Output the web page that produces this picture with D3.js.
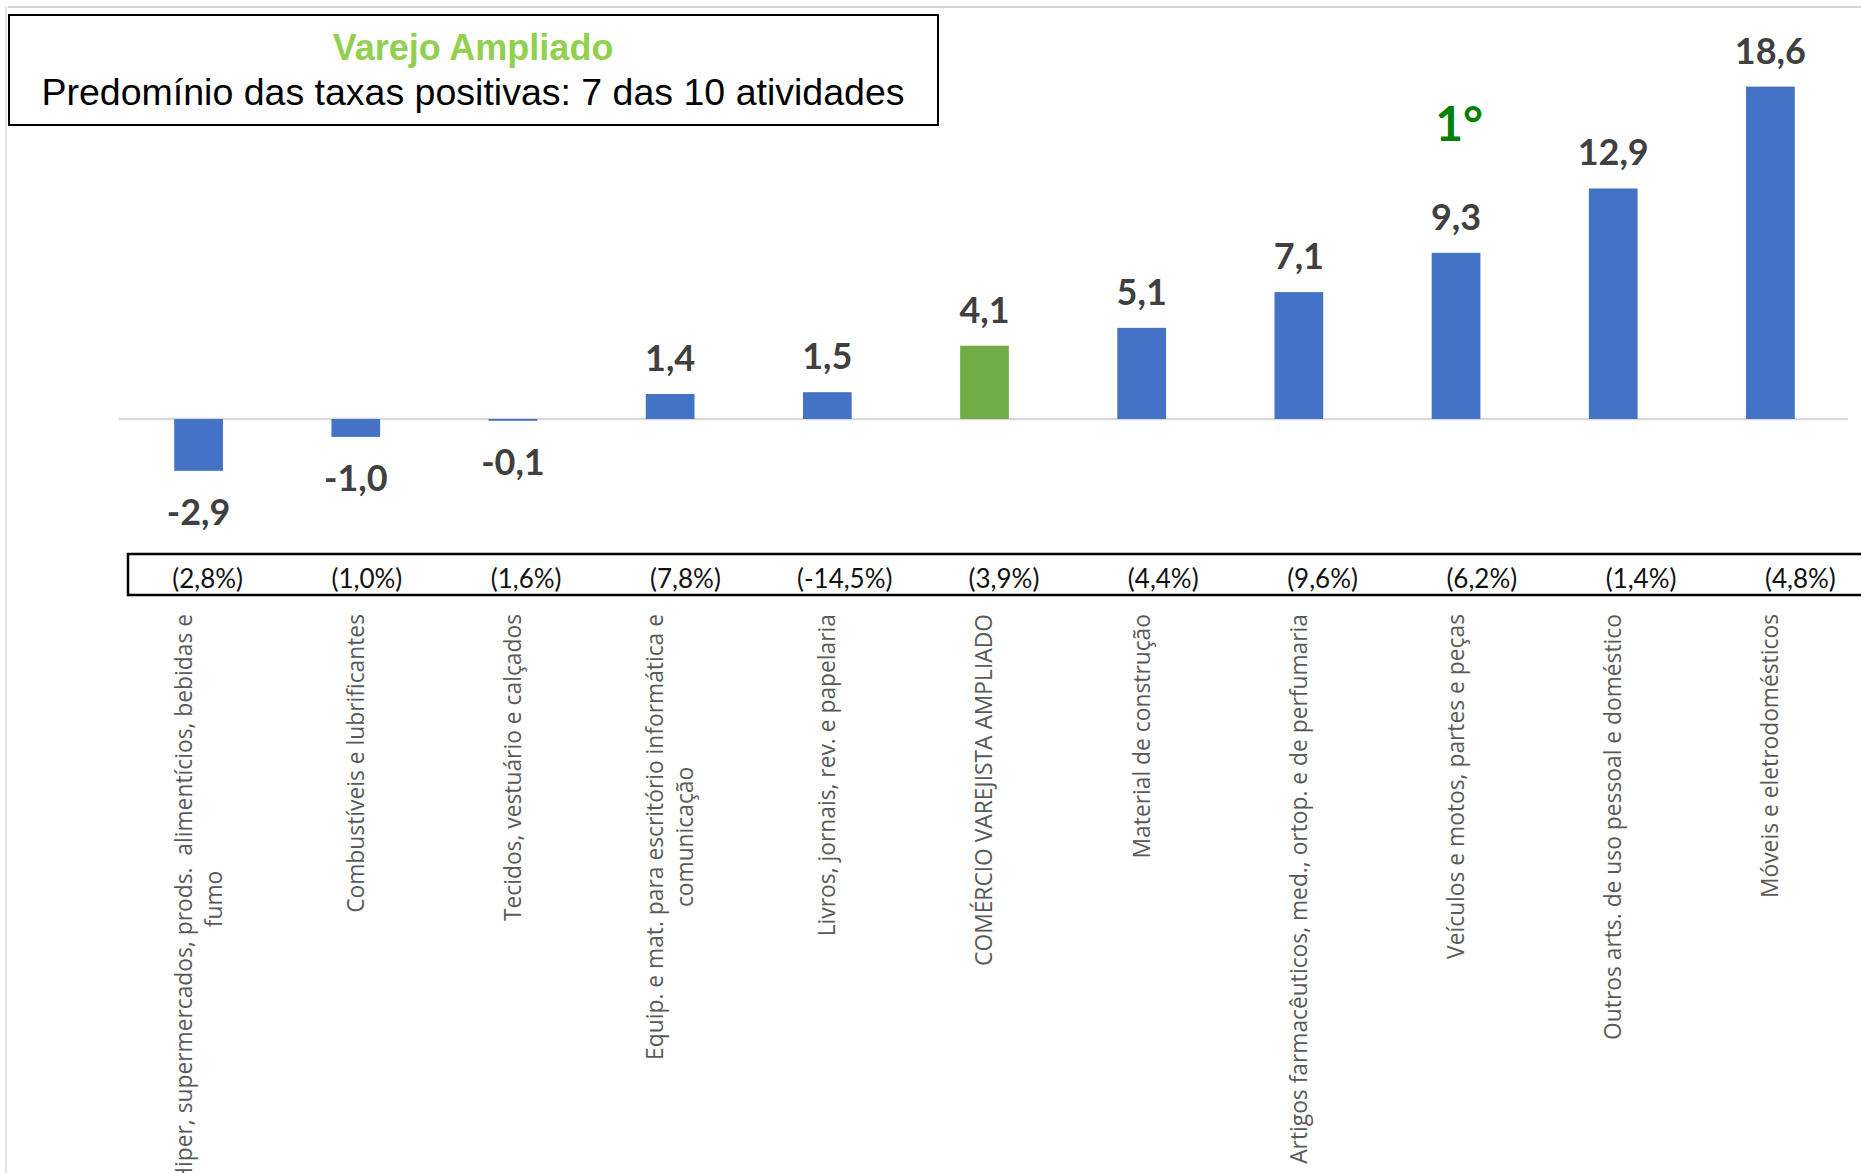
<!DOCTYPE html>
<html>
<head>
<meta charset="utf-8">
<script src="https://cdn.jsdelivr.net/npm/d3@7"></script>
<style>
  body { margin: 0; background: #fff; }
  svg { display: block; }
</style>
</head>
<body>
<div id="chart"></div>
<script>
// ---- data ----
const categories = [
  'Hiper, supermercados, prods.  alimentícios, bebidas e fumo',
  'Combustíveis e lubrificantes',
  'Tecidos, vestuário e calçados',
  'Equip. e mat. para escritório informática e comunicação',
  'Livros, jornais, rev. e papelaria',
  'COMÉRCIO VAREJISTA AMPLIADO',
  'Material de construção',
  'Artigos farmacêuticos, med., ortop. e de perfumaria',
  'Veículos e motos, partes e peças',
  'Outros arts. de uso pessoal e doméstico',
  'Móveis e eletrodomésticos'
];

// how each category label wraps in the reference
const labelLines = [
  ['Hiper, supermercados, prods.  alimentícios, bebidas e', 'fumo'],
  ['Combustíveis e lubrificantes'],
  ['Tecidos, vestuário e calçados'],
  ['Equip. e mat. para escritório informática e', 'comunicação'],
  ['Livros, jornais, rev. e papelaria'],
  ['COMÉRCIO VAREJISTA AMPLIADO'],
  ['Material de construção'],
  ['Artigos farmacêuticos, med., ortop. e de perfumaria'],
  ['Veículos e motos, partes e peças'],
  ['Outros arts. de uso pessoal e doméstico'],
  ['Móveis e eletrodomésticos']
];

const values = [-2.9, -1.0, -0.1, 1.4, 1.5, 4.1, 5.1, 7.1, 9.3, 12.9, 18.6];
const shares = ['(2,8%)', '(1,0%)', '(1,6%)', '(7,8%)', '(-14,5%)', '(3,9%)', '(4,4%)', '(9,6%)', '(6,2%)', '(1,4%)', '(4,8%)'];

const highlight = 'COMÉRCIO VAREJISTA AMPLIADO';
const rankLabel = '1°';
const rankCategory = 'Veículos e motos, partes e peças';

const titleText = 'Varejo Ampliado';
const subtitleText = 'Predomínio das taxas positivas: 7 das 10 atividades';

// ---- layout ----
const W = 1861, H = 1173;
const BLUE = '#4472C4', GREEN = '#70AD47';

const data = categories.map((c, i) => ({ cat: c, value: values[i], share: shares[i], lines: labelLines[i] }));

const svg = d3.select('#chart').append('svg')
  .attr('width', W)
  .attr('height', H);

// slide frame lines
svg.append('line')
  .attr('x1', 8).attr('x2', W).attr('y1', 7).attr('y2', 7)
  .attr('stroke', '#d6d6d6').attr('stroke-width', 2);
svg.append('line')
  .attr('x1', 6).attr('x2', 6).attr('y1', 7).attr('y2', H)
  .attr('stroke', '#e4e4e4').attr('stroke-width', 2);

// scales
const x = d3.scaleBand()
  .domain(categories)
  .range([120, 1849])
  .paddingInner(0.69)
  .paddingOuter(0.345);

const y = d3.scaleLinear()
  .domain([0, 18.6])
  .range([419, 86.6]);

const fmt = v => d3.format('.1f')(v).replace('.', ',').replace('−', '-');

// zero line
svg.append('line')
  .attr('x1', 119).attr('x2', 1848)
  .attr('y1', y(0)).attr('y2', y(0))
  .attr('stroke', '#d9d9d9')
  .attr('stroke-width', 2.5);

// bars
svg.selectAll('.bar')
  .data(data)
  .join('rect')
  .attr('class', 'bar')
  .attr('x', d => x(d.cat))
  .attr('width', x.bandwidth())
  .attr('y', d => y(Math.max(0, d.value)))
  .attr('height', d => Math.abs(y(d.value) - y(0)))
  .attr('fill', d => d.cat === highlight ? GREEN : BLUE);

// value labels
svg.selectAll('.val')
  .data(data)
  .join('text')
  .attr('class', 'val')
  .attr('x', d => x(d.cat) + x.bandwidth() / 2)
  .attr('y', d => d.value >= 0 ? y(d.value) - 23 : y(d.value) + 54)
  .attr('text-anchor', 'middle')
  .style('font-family', 'Lato, "Open Sans", sans-serif')
  .style('font-weight', 'bold')
  .style('font-size', '36px')
  .style('fill', '#404040')
  .text(d => fmt(d.value));

// "1°" marker
svg.append('text')
  .attr('x', x(rankCategory) + x.bandwidth() / 2 + 3)
  .attr('y', 141)
  .attr('text-anchor', 'middle')
  .style('font-family', 'Lato, "Open Sans", sans-serif')
  .style('font-weight', 'bold')
  .style('font-size', '48px')
  .style('fill', '#008000')
  .text(rankLabel);

// title box
svg.append('rect')
  .attr('x', 9).attr('y', 15)
  .attr('width', 929).attr('height', 110)
  .attr('fill', '#fff')
  .attr('stroke', '#000')
  .attr('stroke-width', 2);

svg.append('text')
  .attr('x', 473).attr('y', 60)
  .attr('text-anchor', 'middle')
  .style('font-family', '"Liberation Sans", Arial, sans-serif')
  .style('font-weight', 'bold')
  .style('font-size', '36px')
  .style('fill', '#92D050')
  .text(titleText);

svg.append('text')
  .attr('x', 473).attr('y', 105)
  .attr('text-anchor', 'middle')
  .style('font-family', '"Liberation Sans", Arial, sans-serif')
  .style('font-size', '37.5px')
  .style('fill', '#000')
  .text(subtitleText);

// share table row (its own spacing, runs off the right edge)
const xt = d3.scaleBand()
  .domain(categories)
  .range([128, 1880]);

svg.append('rect')
  .attr('x', 128).attr('y', 554)
  .attr('width', 1800).attr('height', 41)
  .attr('fill', 'none')
  .attr('stroke', '#000')
  .attr('stroke-width', 2.5);

svg.selectAll('.share')
  .data(data)
  .join('text')
  .attr('class', 'share')
  .attr('x', d => xt(d.cat) + xt.bandwidth() / 2)
  .attr('y', 588)
  .attr('text-anchor', 'middle')
  .style('font-family', 'Lato, "Open Sans", sans-serif')
  .style('font-size', '26px')
  .style('fill', '#111')
  .text(d => d.share);

// rotated category labels, top-aligned under the table
const labelTop = 614;
const lineH = 30;

const lab = svg.selectAll('.cat')
  .data(data)
  .join('g')
  .attr('class', 'cat')
  .attr('transform', d => `translate(${x(d.cat) + x.bandwidth() / 2},${labelTop}) rotate(-90)`);

lab.each(function (d) {
  const g = d3.select(this);
  const n = d.lines.length;
  const texts = d.lines.map((ln, i) => g.append('text')
    .attr('y', (i - (n - 1) / 2) * lineH)
    .attr('dy', '0.35em')
    .attr('text-anchor', 'middle')
    .style('white-space', 'pre')
    .style('font-family', '"Open Sans", sans-serif')
    .style('font-size', '22.8px')
    .style('fill', '#595959')
    .text(ln));
  const L = d3.max(texts, t => t.node().getComputedTextLength());
  texts.forEach(t => t.attr('x', -L / 2));
});
</script>
</body>
</html>
